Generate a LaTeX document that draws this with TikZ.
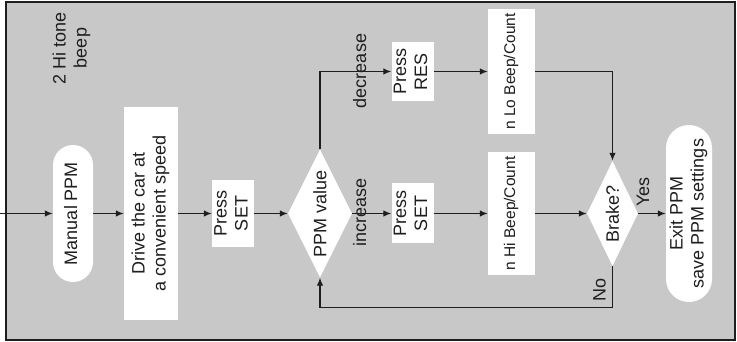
\documentclass[tikz,border=0pt]{standalone}
\usepackage{fontspec}
\usepackage{graphicx}
\setmainfont{Liberation Sans}
\usetikzlibrary{shapes.geometric,arrows.meta}
\definecolor{bggray}{RGB}{200,200,200}
\definecolor{ink}{RGB}{30,30,30}
\newcommand{\vtext}[1]{\rotatebox{90}{\begin{tabular}{@{}c@{}}#1\end{tabular}}}
\tikzset{
  base/.style={font=\fontsize{18}{21}\selectfont, text=ink, inner sep=0pt},
  small/.style={font=\fontsize{15.5}{18}\selectfont},
  whitebox/.style={base, rectangle, fill=white},
  pill/.style={whitebox},
  dec/.style={base, diamond, fill=white},
  flow/.style={draw=ink, line width=1.3pt, -{Latex[length=8pt,width=6.5pt]}},
  lbl/.style={base},
}
\begin{document}
\begin{tikzpicture}[x=1pt,y=-1pt]
\useasboundingbox (0,0) rectangle (737,342);
\fill[bggray] (6,2) rectangle (735,340);
\draw[ink, line width=1.5pt] (6,2) rectangle (735,340);
\draw[ink, line width=2.5pt] (6,2) -- (6,340);

\node[pill, minimum width=40pt, minimum height=137pt, rounded corners=20pt] (manual) at (73,213.5) {\vtext{Manual PPM}};
\node[whitebox, minimum width=54pt, minimum height=213pt] (drive) at (151,213.5) {\vtext{Drive the car at\\a convenient speed}};
\node[whitebox, minimum width=40pt, minimum height=66pt] (set1) at (233,213.5) {\vtext{Press\\SET}};
\node[dec, minimum width=64pt, minimum height=128pt, label={[base, rotate=90]center:PPM value}] (ppm) at (320,213.5) {};
\node[whitebox, minimum width=41pt, minimum height=59pt] (res) at (412.5,71.5) {\vtext{Press\\RES}};
\node[whitebox, minimum width=41pt, minimum height=60pt] (set2) at (412.5,213.5) {\vtext{Press\\SET}};
\node[whitebox, small, minimum width=47pt, minimum height=125pt] (lo) at (511.5,71.5) {\vtext{n Lo Beep/Count}};
\node[whitebox, small, minimum width=47pt, minimum height=123pt] (hi) at (511.5,213.5) {\vtext{n Hi Beep/Count}};
\node[dec, minimum width=51pt, minimum height=105pt, label={[base, rotate=90]center:Brake?}] (brake) at (612.5,213.5) {};
\node[pill, minimum width=46pt, minimum height=177pt, rounded corners=23pt] (exit) at (689,213.5) {\vtext{Exit PPM\\save PPM settings}};

\node[lbl] (dectxt) at (362,71) {\vtext{decrease}};
\node[lbl] (inctxt) at (362,212) {\vtext{increase}};
\node[lbl] (yestxt) at (645,192) {\vtext{Yes}};
\node[lbl] (notxt) at (601.5,290) {\vtext{No}};
\node[lbl] (beeptxt) at (72,48) {\vtext{2 Hi tone\\beep}};

\coordinate (start) at (0,213.5);
\draw[flow] (start) -- (manual);
\draw[flow] (manual) -- (drive);
\draw[flow] (drive) -- (set1);
\draw[flow] (set1) -- (ppm);
\draw[flow] (ppm.north) |- (res.west);
\draw[flow] (ppm) -- (set2);
\draw[flow] (res) -- (lo);
\draw[flow] (set2) -- (hi);
\draw[flow] (lo.east) -| (brake.north);
\draw[flow] (hi) -- (brake);
\draw[flow] (brake) -- (exit);
\draw[flow] (brake.south) -- ++(0,41) -| (ppm.south);
\end{tikzpicture}
\end{document}
